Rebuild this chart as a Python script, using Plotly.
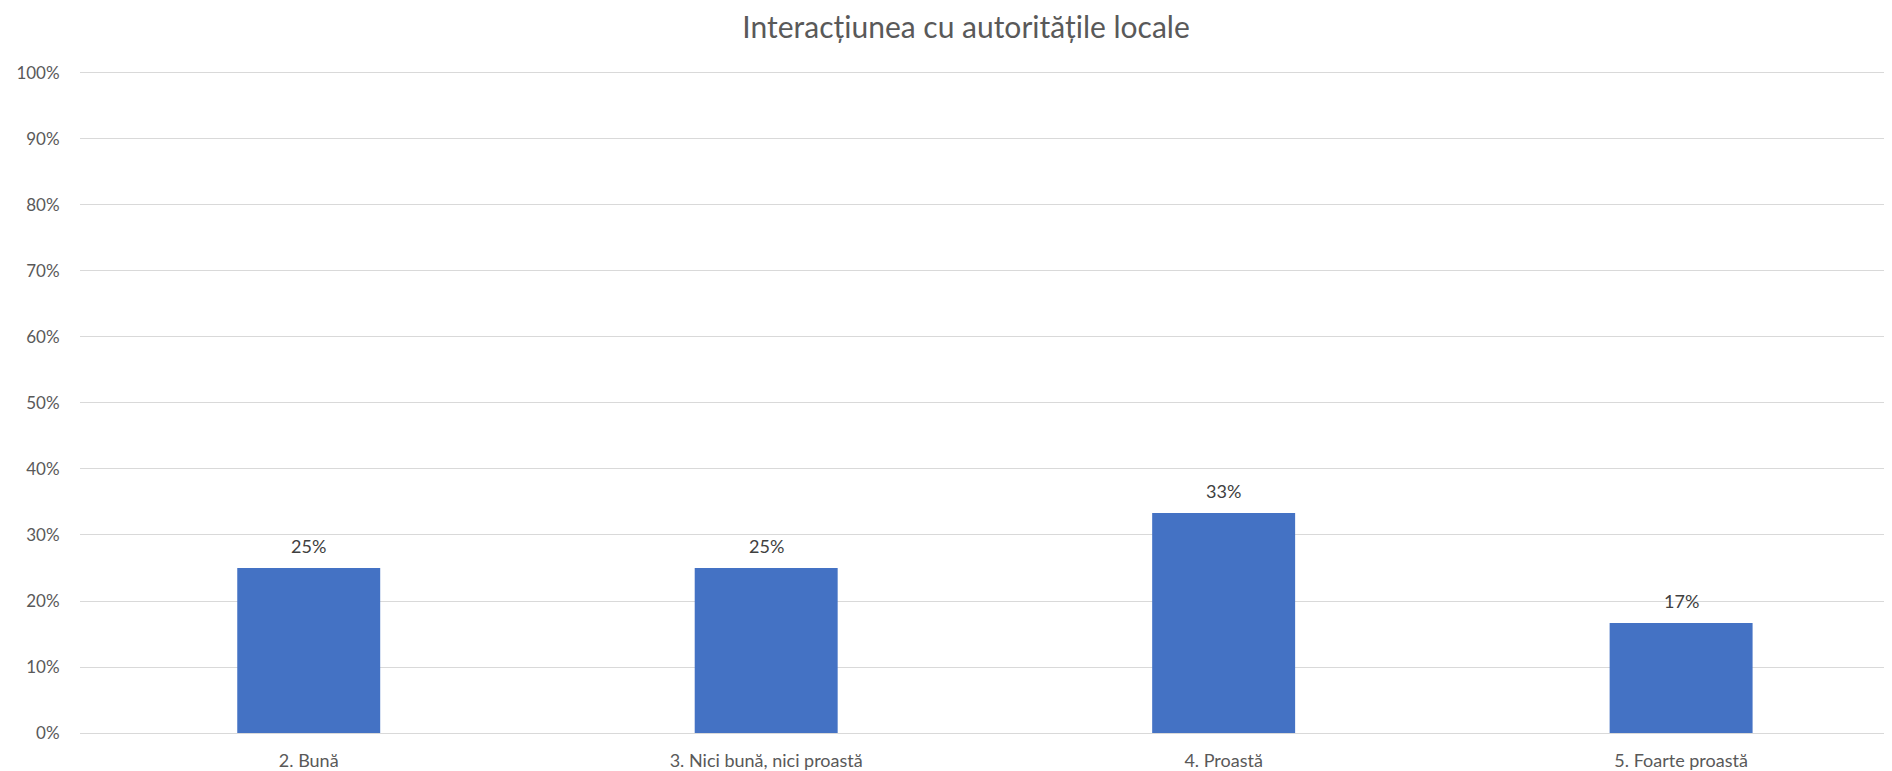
import plotly.graph_objects as go

categories = ["2. Bună", "3. Nici bună, nici proastă", "4. Proastă", "5. Foarte proastă"]
values = [0.25, 0.25, 0.3333, 0.1667]
title_text = "Interacțiunea cu autoritățile locale"
ytick_vals = [i / 10 for i in range(11)]
ytick_text = [f"{i*10}%" for i in range(11)]

FONT = "Lato, 'Open Sans', sans-serif"
GRAY = "#595959"

fig = go.Figure()
fig.add_trace(go.Bar(
    x=list(range(len(categories))),
    y=values,
    width=0.3125,
    marker=dict(color="#4472C4", line=dict(width=0)),
    hoverinfo="skip",
))

for i, v in enumerate(values):
    fig.add_annotation(
        x=i, y=v, xref="x", yref="y",
        text=f"{v:.0%}", showarrow=False,
        yanchor="middle", yshift=22,
        font=dict(family=FONT, size=18, color="#404040"),
    )

W, H = 1884, 763
fig.update_layout(
    width=W, height=H,
    margin=dict(l=72, r=0, t=63, b=38, pad=0, autoexpand=False),
    paper_bgcolor="white", plot_bgcolor="white",
    showlegend=False,
    title=dict(
        text=title_text, xref="paper", x=0.489, xanchor="center",
        y=1 - 19 / H, yref="container", yanchor="middle",
        font=dict(family=FONT, size=30, color=GRAY),
    ),
    xaxis=dict(
        range=[-0.5, 3.461],
        tickmode="array",
        tickvals=list(range(len(categories))),
        ticktext=categories,
        showgrid=False, zeroline=False,
        showline=False,
        ticks="outside", ticklen=11, tickcolor="rgba(0,0,0,0)",
        tickfont=dict(family=FONT, size=18, color=GRAY),
        fixedrange=True,
    ),
    yaxis=dict(
        range=[0, 1.003],
        tickmode="array",
        tickvals=ytick_vals,
        ticktext=ytick_text,
        showgrid=True, gridcolor="#d9d9d9", gridwidth=1.3,
        zeroline=True, zerolinecolor="#d9d9d9", zerolinewidth=1.3,
        showline=False,
        ticks="outside", ticklen=16, tickcolor="rgba(0,0,0,0)",
        tickfont=dict(family=FONT, size=17, color=GRAY),
        fixedrange=True,
    ),
)

fig.write_html("out.html")
